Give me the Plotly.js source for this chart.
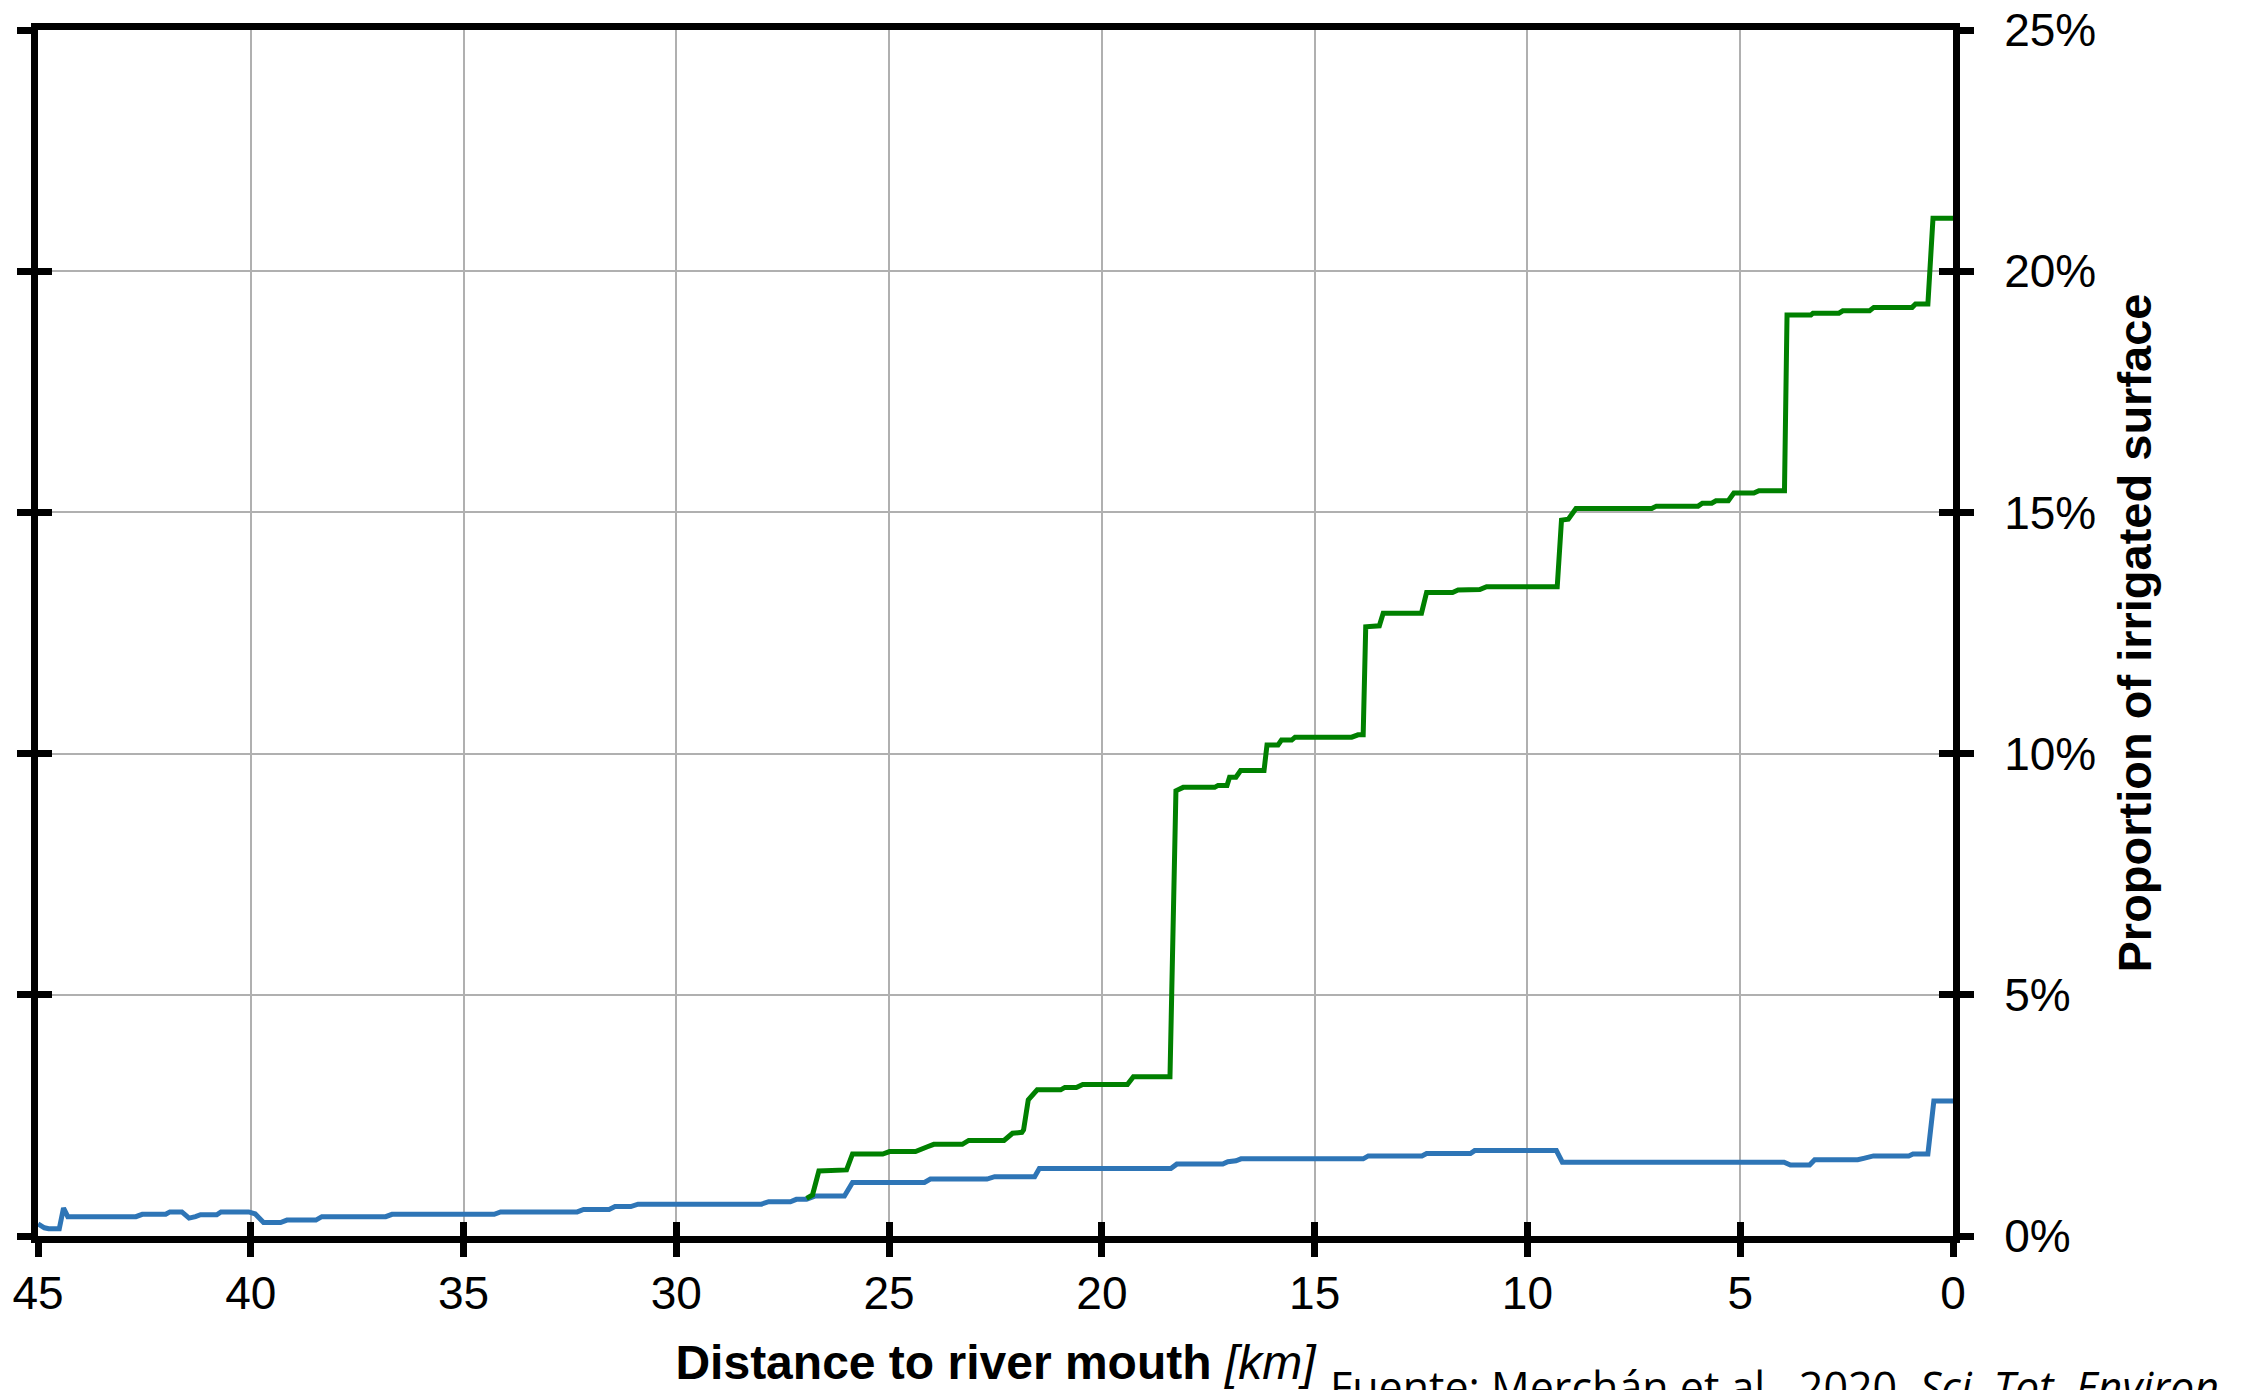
<!DOCTYPE html>
<html>
<head>
<meta charset="utf-8">
<script src="https://cdn.plot.ly/plotly-3.0.1.min.js"></script>
<style>
  html, body { margin: 0; padding: 0; background: #ffffff; }
  #chart { width: 2246px; height: 1390px; }
</style>
</head>
<body>
<div id="chart"></div>
<script>
// ---- Data ----
// Distance to river mouth [km] and proportion of irrigated surface [%]
const blueKm = [45.0, 44.85, 44.75, 44.5, 44.4, 44.3, 42.7, 42.55, 42.0, 41.9, 41.62, 41.45, 41.3, 41.18, 40.8, 40.7, 40.05, 39.9, 39.7, 39.3, 39.15, 38.47, 38.33, 36.83, 36.68, 34.28, 34.13, 32.33, 32.18, 31.58, 31.44, 31.07, 30.9, 28.0, 27.83, 27.32, 27.18, 26.94, 26.73, 26.05, 25.86, 24.17, 24.03, 22.7, 22.52, 21.58, 21.47, 18.38, 18.24, 17.16, 17.04, 16.85, 16.73, 13.86, 13.74, 12.48, 12.37, 11.34, 11.24, 9.32, 9.18, 3.97, 3.82, 3.37, 3.25, 2.24, 2.1, 1.87, 1.04, 0.94, 0.59, 0.45, 0.0];
const bluePct = [0.25, 0.17, 0.15, 0.15, 0.58, 0.40, 0.40, 0.45, 0.45, 0.50, 0.50, 0.37, 0.40, 0.44, 0.44, 0.50, 0.50, 0.46, 0.28, 0.28, 0.33, 0.33, 0.40, 0.40, 0.45, 0.45, 0.50, 0.50, 0.55, 0.55, 0.61, 0.61, 0.66, 0.66, 0.71, 0.71, 0.76, 0.76, 0.83, 0.83, 1.11, 1.11, 1.18, 1.18, 1.23, 1.23, 1.40, 1.40, 1.49, 1.49, 1.54, 1.56, 1.60, 1.60, 1.66, 1.66, 1.71, 1.71, 1.77, 1.77, 1.53, 1.53, 1.47, 1.47, 1.58, 1.58, 1.61, 1.66, 1.66, 1.70, 1.70, 2.80, 2.80];

const greenKm = [26.94, 26.8, 26.65, 26.0, 25.86, 25.15, 24.99, 24.38, 24.1, 23.95, 23.28, 23.13, 22.3, 22.1, 21.88, 21.84, 21.73, 21.65, 21.52, 20.97, 20.87, 20.6, 20.45, 19.4, 19.26, 18.4, 18.26, 18.09, 17.35, 17.27, 17.06, 17.0, 16.85, 16.74, 16.19, 16.12, 15.86, 15.78, 15.54, 15.46, 14.13, 13.98, 13.86, 13.80, 13.48, 13.39, 12.49, 12.37, 11.76, 11.63, 11.12, 10.96, 9.30, 9.20, 9.04, 8.86, 7.08, 6.97, 5.99, 5.89, 5.67, 5.57, 5.28, 5.15, 4.68, 4.56, 3.96, 3.90, 3.34, 3.29, 2.68, 2.59, 1.96, 1.86, 0.96, 0.88, 0.59, 0.47, 0.0];
const greenPct = [0.78, 0.85, 1.35, 1.37, 1.70, 1.70, 1.75, 1.75, 1.85, 1.90, 1.90, 1.98, 1.98, 2.13, 2.15, 2.20, 2.82, 2.89, 3.03, 3.03, 3.08, 3.08, 3.14, 3.14, 3.30, 3.30, 9.23, 9.30, 9.30, 9.34, 9.34, 9.51, 9.51, 9.65, 9.65, 10.18, 10.18, 10.28, 10.28, 10.34, 10.34, 10.39, 10.39, 12.63, 12.65, 12.91, 12.91, 13.34, 13.34, 13.39, 13.40, 13.46, 13.46, 14.84, 14.86, 15.08, 15.08, 15.13, 15.13, 15.19, 15.19, 15.24, 15.24, 15.40, 15.40, 15.45, 15.45, 19.09, 19.09, 19.13, 19.13, 19.18, 19.18, 19.25, 19.25, 19.32, 19.32, 21.10, 21.10];

const xTicks = [45, 40, 35, 30, 25, 20, 15, 10, 5, 0];
const yTicks = [0, 5, 10, 15, 20, 25];
const xTitle = '<b>Distance to river mouth</b> <i>[km]</i>';
const yTitle = '<b>Proportion of irrigated surface</b>';
const sourceText = 'Fuente: Merchán et al., 2020. <i>Sci. Tot. Environ.</i>';

// ---- Styles ----
const BLACK = '#000000';
const GRID = '#b0b0b0';
const SANS = '"Liberation Sans", Arial, sans-serif';
const xRange = [45, 0];
const yRange = [0, 25];

const traces = [
  { x: blueKm, y: bluePct, type: 'scatter', mode: 'lines', name: 'blue',
    line: { color: '#2e75b6', width: 5 }, xaxis: 'x', yaxis: 'y', hoverinfo: 'skip' },
  { x: greenKm, y: greenPct, type: 'scatter', mode: 'lines', name: 'green',
    line: { color: '#008000', width: 5 }, xaxis: 'x', yaxis: 'y', hoverinfo: 'skip' },
  // empty traces that only carry the tick-overlay axes
  { x: [], y: [], type: 'scatter', mode: 'lines', xaxis: 'x2', yaxis: 'y', showlegend: false, hoverinfo: 'skip' },
  { x: [], y: [], type: 'scatter', mode: 'lines', xaxis: 'x', yaxis: 'y2', showlegend: false, hoverinfo: 'skip' },
  { x: [], y: [], type: 'scatter', mode: 'lines', xaxis: 'x', yaxis: 'y3', showlegend: false, hoverinfo: 'skip' },
  { x: [], y: [], type: 'scatter', mode: 'lines', xaxis: 'x', yaxis: 'y4', showlegend: false, hoverinfo: 'skip' }
];

const tickCommon = { ticklen: 14, tickwidth: 7, tickcolor: BLACK, zeroline: false, fixedrange: true };

const layout = {
  width: 2246, height: 1390,
  margin: { l: 38, r: 293, t: 30, b: 154, pad: 0 },
  paper_bgcolor: '#ffffff', plot_bgcolor: '#ffffff',
  showlegend: false,
  xaxis: Object.assign({}, tickCommon, {
    range: xRange, tickmode: 'array', tickvals: xTicks, ticktext: xTicks.map(String),
    ticks: 'outside', showline: true, linewidth: 7, linecolor: BLACK, mirror: true,
    showgrid: true, gridcolor: GRID, gridwidth: 2,
    tickfont: { family: SANS, size: 46, color: BLACK },
    ticklabelstandoff: -3,
    title: { text: xTitle, font: { family: SANS, size: 48, color: BLACK }, standoff: 30 }
  }),
  xaxis2: Object.assign({}, tickCommon, {
    overlaying: 'x', anchor: 'y', side: 'bottom',
    range: xRange, tickmode: 'array', tickvals: xTicks,
    ticks: 'inside', showticklabels: false, showline: false, showgrid: false
  }),
  yaxis: Object.assign({}, tickCommon, {
    range: yRange, tickmode: 'array', tickvals: yTicks, side: 'left',
    ticks: 'outside', showticklabels: false, showline: true, linewidth: 7, linecolor: BLACK,
    showgrid: true, gridcolor: GRID, gridwidth: 2
  }),
  yaxis2: Object.assign({}, tickCommon, {
    overlaying: 'y', anchor: 'x', side: 'left',
    range: yRange, tickmode: 'array', tickvals: yTicks,
    ticks: 'inside', showticklabels: false, showline: false, showgrid: false
  }),
  yaxis3: Object.assign({}, tickCommon, {
    overlaying: 'y', anchor: 'x', side: 'right',
    range: yRange, tickmode: 'array', tickvals: yTicks, ticktext: yTicks.map(v => v + '%'),
    ticks: 'outside', showticklabels: true, showline: true, linewidth: 7, linecolor: BLACK, showgrid: false,
    tickfont: { family: SANS, size: 46, color: BLACK },
    ticklabelstandoff: 21,
    title: { text: yTitle, font: { family: SANS, size: 47, color: BLACK }, standoff: 25 }
  }),
  yaxis4: Object.assign({}, tickCommon, {
    overlaying: 'y', anchor: 'x', side: 'right',
    range: yRange, tickmode: 'array', tickvals: yTicks,
    ticks: 'inside', showticklabels: false, showline: false, showgrid: false
  }),
  annotations: [{
    text: sourceText, xref: 'paper', yref: 'paper',
    x: (1328 - 38) / 1915, y: (1236 - 1355) / 1206,
    xanchor: 'left', yanchor: 'top', showarrow: false,
    font: { family: '"Open Sans", "Noto Sans", sans-serif', size: 43, color: BLACK }
  }]
};

Plotly.newPlot('chart', traces, layout, { displayModeBar: false, staticPlot: true });
</script>
</body>
</html>
